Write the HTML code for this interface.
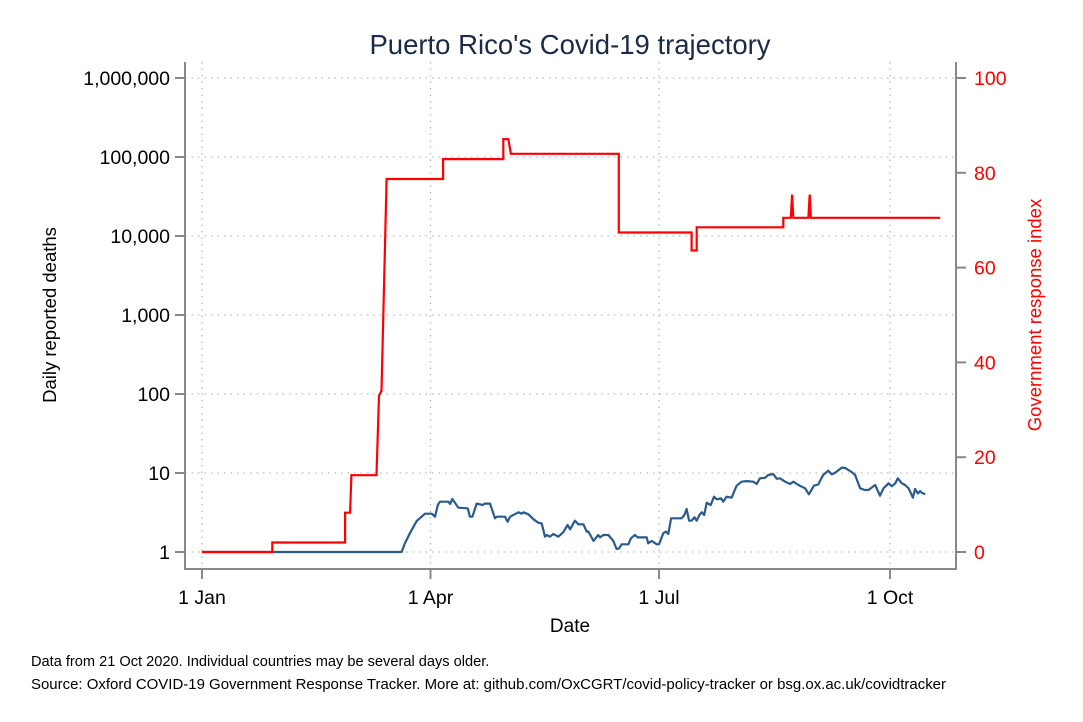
<!DOCTYPE html>
<html><head><meta charset="utf-8"><style>
body{margin:0;background:#fff;}
svg{display:block;font-family:"Liberation Sans",Arial,sans-serif;}
</style></head><body>
<svg id="chart" width="1083" height="722" viewBox="0 0 1083 722" xmlns="http://www.w3.org/2000/svg">
<rect width="1083" height="722" fill="#fff"/>
<text x="570" y="54" font-size="27.5" fill="#1a2b45" text-anchor="middle">Puerto Rico's Covid-19 trajectory</text>
<g id="grid"></g>
<g id="axes"></g>
<g id="series"></g>
<text transform="translate(56,315) rotate(-90)" font-size="18.5" text-anchor="middle">Daily reported deaths</text>
<text transform="translate(1041,315) rotate(-90)" font-size="18.5" fill="#ff0000" text-anchor="middle">Government response index</text>
<text x="570" y="632" font-size="19" text-anchor="middle">Date</text>
<text x="31" y="666" font-size="14.6">Data from 21 Oct 2020. Individual countries may be several days older.</text>
<text x="31" y="689" font-size="14.6" textLength="915" lengthAdjust="spacingAndGlyphs">Source: Oxford COVID-19 Government Response Tracker. More at: github.com/OxCGRT/covid-policy-tracker or bsg.ox.ac.uk/covidtracker</text>
</svg>
<script>
const xTickDays=[0,91,182,274];
const xTickLabels=["1 Jan","1 Apr","1 Jul","1 Oct"];
const yTickVals=[1,10,100,1000,10000,100000,1000000];
const yTickLabels=["1","10","100","1,000","10,000","100,000","1,000,000"];
const y2TickVals=[0,20,40,60,80,100];
const deathDays=[0,79.5,80.8,82.8,85.5,88.8,91.5,92.8,93.9,94.8,98.1,98.8,99.7,102.1,105.8,106.7,107.7,109.4,111.7,112.7,114.7,116.7,117.4,120.7,121.7,122.7,126,127.3,128,130,132,133.9,135.3,136.6,137.3,138.6,139.9,141.9,143.9,145.6,146.6,148.5,149.9,151.9,153.2,153.9,155.9,157.8,158.5,159.8,161.8,163.8,165.1,166.1,167.1,169.8,170.8,172.4,173.5,177.1,177.7,179.1,181.1,182,183.7,184.7,185.7,186.8,191,192.1,193,194,195,196.1,197,198.1,199,200,201,202.6,203.9,205,206.7,207.6,208.9,210.9,212.9,214.9,216.9,219.5,220.9,222.2,224.2,225.5,227.5,228.9,230.2,232.2,234.2,235.5,237.5,240.2,241.7,243.7,245.4,247.4,249.4,250.8,252.4,254.8,256.1,258.7,260.1,262.1,264,265.4,268.1,270,271.4,273.4,274.7,276.1,277.1,278.7,280,281.4,283.1,284,285.1,286,286.7,288];
const deathVals=[1,1,1.29,1.73,2.47,3.05,3.05,2.8,3.94,4.33,4.33,4.05,4.69,3.64,3.57,2.8,2.8,4.1,3.94,4.1,4.1,2.67,2.8,2.8,2.42,2.8,3.18,3.05,3.18,3.0,2.59,2.35,2.3,1.56,1.64,1.56,1.69,1.56,1.78,2.2,1.94,2.49,2.24,2.24,1.81,1.81,1.38,1.64,1.53,1.64,1.64,1.38,1.09,1.11,1.25,1.25,1.49,1.64,1.53,1.53,1.29,1.38,1.25,1.25,1.73,1.81,1.69,2.67,2.67,2.94,3.5,2.49,2.49,2.75,2.49,2.94,3.18,2.94,4.21,3.94,5.01,4.64,4.78,4.33,5.01,4.87,6.9,7.76,7.9,7.76,7.26,8.57,8.7,9.43,9.7,8.45,8.57,7.76,7.26,7.76,7.05,6.4,5.37,6.9,7.16,9.43,10.7,9.6,10.2,11.7,11.6,10.3,9.43,6.4,6.1,6.1,7.05,5.16,6.4,7.4,6.8,7.4,8.57,7.4,7.05,6.4,4.87,6.3,5.5,5.9,5.6,5.4];
const griDays=[0,28,28,57,57,59,59.5,69.5,70.5,71.5,73.5,96,96,120,120,122,123,166,166,195,195,197,197,231.5,231.5,234.5,235,235.5,241.5,242,242.5,294];
const griVals=[0,0,2,2,8.3,8.3,16.2,16.2,33,34,78.7,78.7,82.9,82.9,87.1,87.1,84,84,67.4,67.4,63.6,63.6,68.5,68.5,70.5,70.5,75.4,70.5,70.5,75.4,70.5,70.5];

const NS="http://www.w3.org/2000/svg";
const X0=202,PXD=2.511,L=185,R=956,B=569,T=62;
const xs=d=>X0+d*PXD;
const ys=v=>552-Math.log10(v)*79;
const y2s=v=>552-v*4.74;
function mk(tag,attrs,parent,txt){const e=document.createElementNS(NS,tag);for(const k in attrs)e.setAttribute(k,attrs[k]);if(txt!==undefined)e.textContent=txt;parent.appendChild(e);return e;}
const grid=document.getElementById('grid'),axes=document.getElementById('axes'),series=document.getElementById('series');
yTickVals.forEach((v,i)=>{
  const y=ys(v);
  const g=mk('line',{x1:L,x2:R,y1:y,y2:y,stroke:'#bbb','stroke-width':1.3,'stroke-dasharray':'1.5 5'},grid);
  
  
  const t=mk('line',{x1:L-10,x2:L,y1:y,y2:y,stroke:'#888','stroke-width':2},axes);
  
  
  const l=mk('text',{x:L-15,y:y+7,'font-size':19.5,'text-anchor':'end'},axes,yTickLabels[i]);
  
  
});
xTickDays.forEach((d,i)=>{
  const x=xs(d);
  const g=mk('line',{x1:x,x2:x,y1:T,y2:B,stroke:'#bbb','stroke-width':1.3,'stroke-dasharray':'1.5 5'},grid);
  
  
  const t=mk('line',{x1:x,x2:x,y1:B,y2:B+10,stroke:'#888','stroke-width':2},axes);
  
  
  const l=mk('text',{x:x,y:604,'font-size':19.5,'text-anchor':'middle'},axes,xTickLabels[i]);
  
  
});
y2TickVals.forEach(v=>{
  const y=y2s(v);
  const t=mk('line',{x1:R,x2:R+10,y1:y,y2:y,stroke:'#888','stroke-width':2},axes);
  
  
  const l=mk('text',{x:R+18,y:y+7,'font-size':19.5,fill:'#ff0000'},axes,String(v));
  
  
});
const ax=mk('path',{d:`M${L},${T}V${B}H${R}V${T}`,fill:'none',stroke:'#888','stroke-width':2},axes);


const dp=mk('polyline',{points:deathDays.map((d,i)=>xs(d).toFixed(1)+','+ys(deathVals[i]).toFixed(1)).join(' '),fill:'none',stroke:'#2a5b8c','stroke-width':2.2,'stroke-linejoin':'round'},series);


const gp=mk('polyline',{points:griDays.map((d,i)=>xs(d).toFixed(1)+','+y2s(griVals[i]).toFixed(1)).join(' '),fill:'none',stroke:'#ff0000','stroke-width':2.2},series);


</script>
</body></html>
